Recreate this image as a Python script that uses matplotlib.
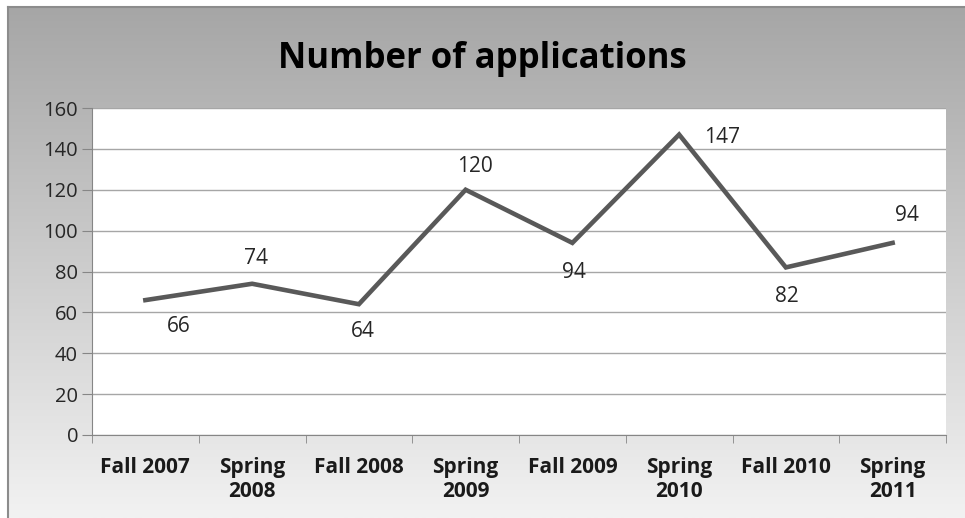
import matplotlib
matplotlib.use("Agg")
import matplotlib.pyplot as plt
import numpy as np

terms = ["Fall 2007", "Spring\n2008", "Fall 2008", "Spring\n2009",
         "Fall 2009", "Spring\n2010", "Fall 2010", "Spring\n2011"]
applications = [66, 74, 64, 120, 94, 147, 82, 94]
# where each data label sits relative to its point (points)
label_offsets = [(24, -19), (3, 18), (3, -20), (7, 17),
                 (1, -21), (31, -2), (1, -21), (10, 20)]

plt.rcParams['font.family'] = ['Open Sans', 'DejaVu Sans']

fig = plt.figure(figsize=(9.65, 5.18), dpi=100)
fig.patch.set_facecolor('white')

# gray gradient chart background
bg = fig.add_axes([8/965, 0, 1 - 8/965, 1 - 7/518])
grad = np.linspace(0, 1, 256).reshape(-1, 1)
bg.imshow(grad, aspect='auto', cmap=matplotlib.colors.LinearSegmentedColormap.from_list(
    'g', ['#a6a6a6', '#f2f2f2']), extent=[0, 1, 0, 1], origin='upper')
bg.set_xticks([])
bg.set_yticks([])
for s in bg.spines.values():
    s.set_color('#8c8c8c')
    s.set_linewidth(1.5)
bg.spines['right'].set_visible(False)
bg.spines['bottom'].set_visible(False)

ax = fig.add_axes([92/965, 1 - 435/518, (946 - 92)/965, (435 - 108)/518])
ax.set_facecolor('white')
x = np.arange(len(terms))
ax.plot(x, applications, color='#595959', lw=3.3, solid_joinstyle='miter', zorder=3)

for xi, v, off in zip(x, applications, label_offsets):
    ax.annotate(str(v), (xi, v), xytext=off, textcoords='offset points',
                ha='center', va='center', fontsize=15, color='#262626')

ax.set_xlim(-0.5, len(terms) - 0.5)
ax.set_ylim(0, 160)
ax.set_yticks(range(0, 161, 20))
ax.yaxis.grid(True, color='#a6a6a6', lw=1)
ax.set_axisbelow(True)
ax.set_xticks(x)
ax.set_xticklabels(terms, fontsize=15, fontweight='bold', color='#1a1a1a', linespacing=1.2)
ax.set_xticks(np.arange(-0.5, len(terms)), minor=True)
ax.tick_params(axis='x', which='major', length=0, pad=16)
ax.tick_params(axis='x', which='minor', length=6, color='#868686', direction='out')
ax.tick_params(axis='y', length=7, color='#868686', labelsize=14.5, labelcolor='#262626', pad=3)
for s in ['top', 'right']:
    ax.spines[s].set_visible(False)
ax.spines['left'].set_color('#868686')
ax.spines['bottom'].set_color('#868686')

fig.text(0.5, 1 - 59/518, "Number of applications", ha='center', va='center',
         fontsize=25, fontweight='bold', color='black')

fig.savefig('out.png', dpi=100)
